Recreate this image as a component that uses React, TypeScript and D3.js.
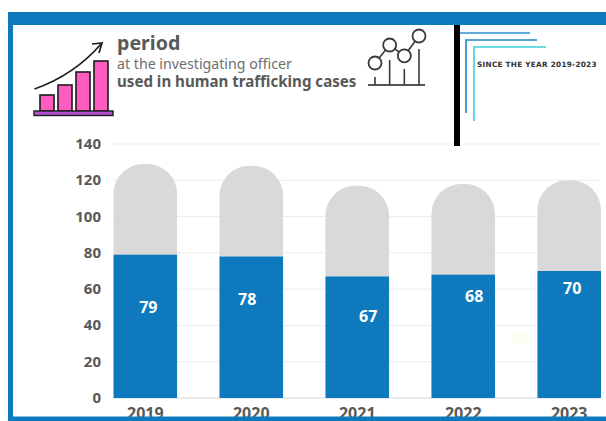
import React from "react";
import * as d3 from "d3";

const years = ["2019", "2020", "2021", "2022", "2023"];
const investigated = [79, 78, 67, 68, 70];
const totals = [129, 128, 117, 118, 120];
const yTicks = [0, 20, 40, 60, 80, 100, 120, 140];
const iconBars = [16, 26, 39, 50];
const iconDots: [number, number][] = [[0, 22], [1, 42], [2, 30], [3, 52]];

const BLUE = "#0e7abd";
const GREY = "#d9d9d9";
const TEXT = "#595959";
const FONT = "'Noto Sans', 'Open Sans', sans-serif";

// Each value label sits at its own spot inside the bar.
const labelOffset = [
  { dx: 3, y: 307 },
  { dx: -4, y: 299 },
  { dx: 11, y: 316 },
  { dx: 11, y: 296 },
  { dx: 3, y: 288 },
];

function topRounded(x: number, w: number, top: number, bottom: number, r: number) {
  const p = d3.path();
  p.moveTo(x, bottom);
  p.lineTo(x, top + r);
  p.arcTo(x, top, x + r, top, r);
  p.lineTo(x + w - r, top);
  p.arcTo(x + w, top, x + w, top + r, r);
  p.lineTo(x + w, bottom);
  p.closePath();
  return p.toString();
}

export default function App() {
  const x = d3.scaleBand<string>().domain(years).range([113.5, 601]).paddingInner(0.4).paddingOuter(0);
  const y = d3.scaleLinear().domain([0, 140]).range([398, 144]);
  const w = x.bandwidth();

  const iconX = d3.scaleBand<number>().domain(d3.range(iconBars.length)).range([40, 108]).paddingInner(0.222);
  const iconY = d3.scaleLinear().domain([0, 50]).range([111, 61]);
  const dotX = d3.scaleLinear().domain([0, 3]).range([375, 419]);
  const dotY = d3.scaleLinear().domain([22, 52]).range([63, 36]);
  const stemBase = 85;
  const stems = [77, 60, 69, 49];

  const dotLine = d3.line<[number, number]>()
    .x((d) => dotX(d[0]))
    .y((d) => dotY(d[1]));

  return (
    <svg width={606} height={421} style={{ position: "absolute", left: 0, top: 0, background: "#fff" }} fontFamily={FONT}>
      {yTicks.map((t) => (
        <g key={t}>
          <line x1={113} x2={600} y1={y(t)} y2={y(t)} stroke={t === 0 ? "#d6d6d6" : "#ececec"} strokeWidth={1} />
          <text x={101} y={y(t) + 5} textAnchor="end" fontSize={15} fontWeight={700} fill={TEXT}>{t}</text>
        </g>
      ))}

      {years.map((yr, i) => {
        const bx = x(yr)!;
        return (
          <g key={yr}>
            <path d={topRounded(bx, w, y(totals[i]), y(investigated[i]), 30)} fill={GREY} />
            <rect x={bx} y={y(investigated[i])} width={w} height={y(0) - y(investigated[i])} fill={BLUE} />
            <text x={bx + w / 2 + labelOffset[i].dx} y={labelOffset[i].y + 5.5} textAnchor="middle" fontSize={16} fontWeight={700} fill="#fff">
              {investigated[i]}
            </text>
            <text x={bx + w / 2} y={418.5} textAnchor="middle" fontSize={16} fontWeight={700} fill={TEXT}>{yr}</text>
          </g>
        );
      })}

      {/* barely visible leftover figure between the last two bars */}
      <text x={521} y={344} textAnchor="middle" fontSize={16} fontWeight={700} fill="#fcfcee">68</text>

      <text x={117} y={50} fontSize={19.6} fontWeight={700} fill={TEXT}>period</text>
      <text x={117} y={69} fontSize={14.2} fill="#6e6e6e">at the investigating officer</text>
      <text x={117} y={87} fontSize={15.1} fontWeight={700} fill={TEXT}>used in human trafficking cases</text>

      {/* rising bars pictogram */}
      {iconBars.map((v, i) => (
        <rect key={i} x={iconX(i)!} y={iconY(v)} width={iconX.bandwidth()} height={111 - iconY(v)} fill="#ff5cc0" stroke="#1c1c1c" strokeWidth={1.6} />
      ))}
      <rect x={34} y={111} width={79} height={4.5} fill="#b44fd0" stroke="#1c1c1c" strokeWidth={1.4} />
      <path d="M34.5,89 C60,80 82,66 101,44" fill="none" stroke="#1c1c1c" strokeWidth={1.7} />
      <path d="M92,44 L102,43 L99,53" fill="none" stroke="#1c1c1c" strokeWidth={1.7} />

      {/* line-and-dot pictogram */}
      <line x1={368} x2={425} y1={85} y2={85} stroke="#555" strokeWidth={1.8} />
      {iconDots.map((d, i) => (
        <line key={i} x1={dotX(d[0])} x2={dotX(d[0])} y1={stemBase} y2={stems[i]} stroke="#3a3a3a" strokeWidth={1.6} />
      ))}
      <path d={dotLine(iconDots) ?? ""} fill="none" stroke="#3a3a3a" strokeWidth={1.6} />
      {iconDots.map((d, i) => (
        <circle key={i} cx={dotX(d[0])} cy={dotY(d[1])} r={6.5} fill="#fff" stroke="#3a3a3a" strokeWidth={1.8} />
      ))}

      {/* nested corner brackets and divider */}
      <rect x={454} y={25} width={6} height={121} fill="#000" />
      <path d="M530,33 H460" fill="none" stroke="#2f8fce" strokeWidth={1.6} />
      <path d="M537,40 H466 V113" fill="none" stroke="#1f86c8" strokeWidth={1.6} />
      <path d="M546,47 H474 V121" fill="none" stroke="#3fd0dc" strokeWidth={1.6} />
      <text x={477} y={66.5} fontSize={7.3} fontWeight={700} letterSpacing={0.27} fill="#333" fontFamily="'DejaVu Sans', sans-serif">SINCE THE YEAR 2019-2023</text>

      {/* frame */}
      <rect x={10.5} y={18.5} width={610} height={400.5} fill="none" stroke={BLUE} strokeWidth={5} />
      <rect x={8} y={12} width={606} height={13} fill={BLUE} />
    </svg>
  );
}
